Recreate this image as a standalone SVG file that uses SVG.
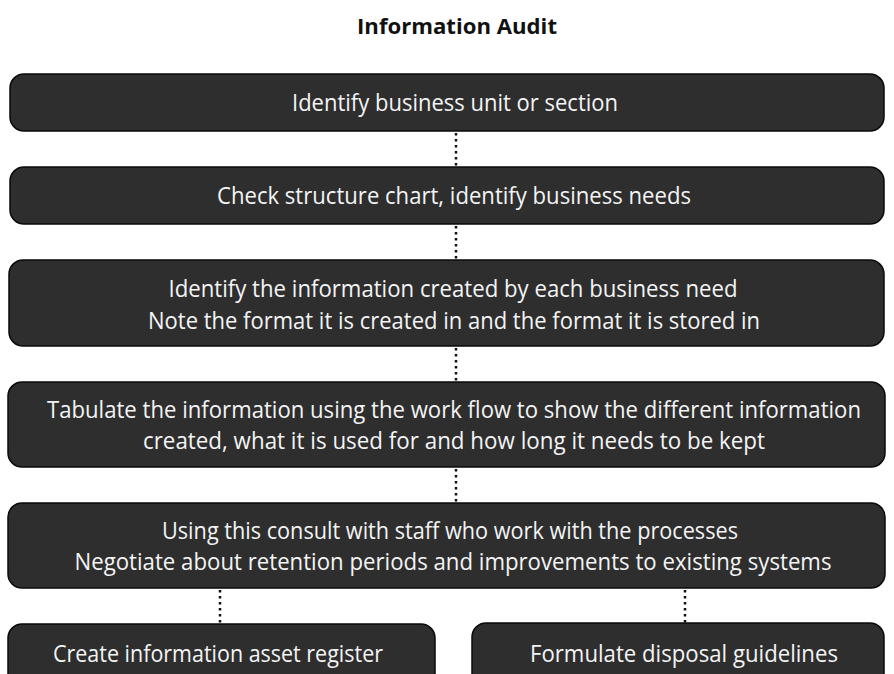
<svg xmlns="http://www.w3.org/2000/svg" width="894" height="674" viewBox="0 0 894 674">
  <style>
    .box { fill: #2e2e2e; stroke: #0a0a0a; stroke-width: 1.5; }
    .lbl { font-family: "Open Sans", "Noto Sans", "Liberation Sans", sans-serif; font-size: 23px; fill: #f4f4f4; text-anchor: middle; }
    .title { font-family: "Open Sans", "Noto Sans", "Liberation Sans", sans-serif; font-size: 21px; font-weight: bold; fill: #111; text-anchor: middle; }
    .link { stroke: #111; stroke-width: 2.5; stroke-dasharray: 2.5 3.5; fill: none; }
  </style>
  <rect width="894" height="674" fill="#ffffff"/>

  <text class="title" x="457" y="34" textLength="200" lengthAdjust="spacingAndGlyphs">Information Audit</text>

  <g id="connectors">
    <line class="link" x1="456" y1="133" x2="456" y2="167"/>
    <line class="link" x1="456" y1="226" x2="456" y2="260"/>
    <line class="link" x1="456" y1="348" x2="456" y2="382"/>
    <line class="link" x1="456" y1="469" x2="456" y2="503"/>
    <line class="link" x1="220" y1="590" x2="220" y2="624"/>
    <line class="link" x1="685" y1="590" x2="685" y2="623"/>
  </g>

  <g id="identify-unit">
    <rect class="box" x="10" y="74" width="874" height="57" rx="14"/>
    <text class="lbl" x="455" y="111" textLength="326" lengthAdjust="spacingAndGlyphs">Identify business unit or section</text>
  </g>

  <g id="check-structure">
    <rect class="box" x="10" y="167" width="874" height="57" rx="14"/>
    <text class="lbl" x="454" y="204" textLength="474" lengthAdjust="spacingAndGlyphs">Check structure chart, identify business needs</text>
  </g>

  <g id="identify-information">
    <rect class="box" x="9" y="260" width="875" height="86" rx="14"/>
    <text class="lbl" x="453" y="297" textLength="569" lengthAdjust="spacingAndGlyphs">Identify the information created by each business need</text>
    <text class="lbl" x="454" y="329" textLength="612" lengthAdjust="spacingAndGlyphs">Note the format it is created in and the format it is stored in</text>
  </g>

  <g id="tabulate">
    <rect class="box" x="8" y="382" width="877" height="85" rx="14"/>
    <text class="lbl" x="454" y="418" textLength="814" lengthAdjust="spacingAndGlyphs">Tabulate the information using the work flow to show the different information</text>
    <text class="lbl" x="454" y="449" textLength="622" lengthAdjust="spacingAndGlyphs">created, what it is used for and how long it needs to be kept</text>
  </g>

  <g id="consult-staff">
    <rect class="box" x="8" y="503" width="877" height="85" rx="14"/>
    <text class="lbl" x="450" y="539" textLength="576" lengthAdjust="spacingAndGlyphs">Using this consult with staff who work with the processes</text>
    <text class="lbl" x="453" y="570" textLength="757" lengthAdjust="spacingAndGlyphs">Negotiate about retention periods and improvements to existing systems</text>
  </g>

  <g id="asset-register">
    <rect class="box" x="8" y="624" width="427" height="70" rx="14"/>
    <text class="lbl" x="218" y="662" textLength="330" lengthAdjust="spacingAndGlyphs">Create information asset register</text>
  </g>

  <g id="disposal-guidelines">
    <rect class="box" x="472" y="623" width="412" height="70" rx="14"/>
    <text class="lbl" x="684" y="662" textLength="308" lengthAdjust="spacingAndGlyphs">Formulate disposal guidelines</text>
  </g>
</svg>
